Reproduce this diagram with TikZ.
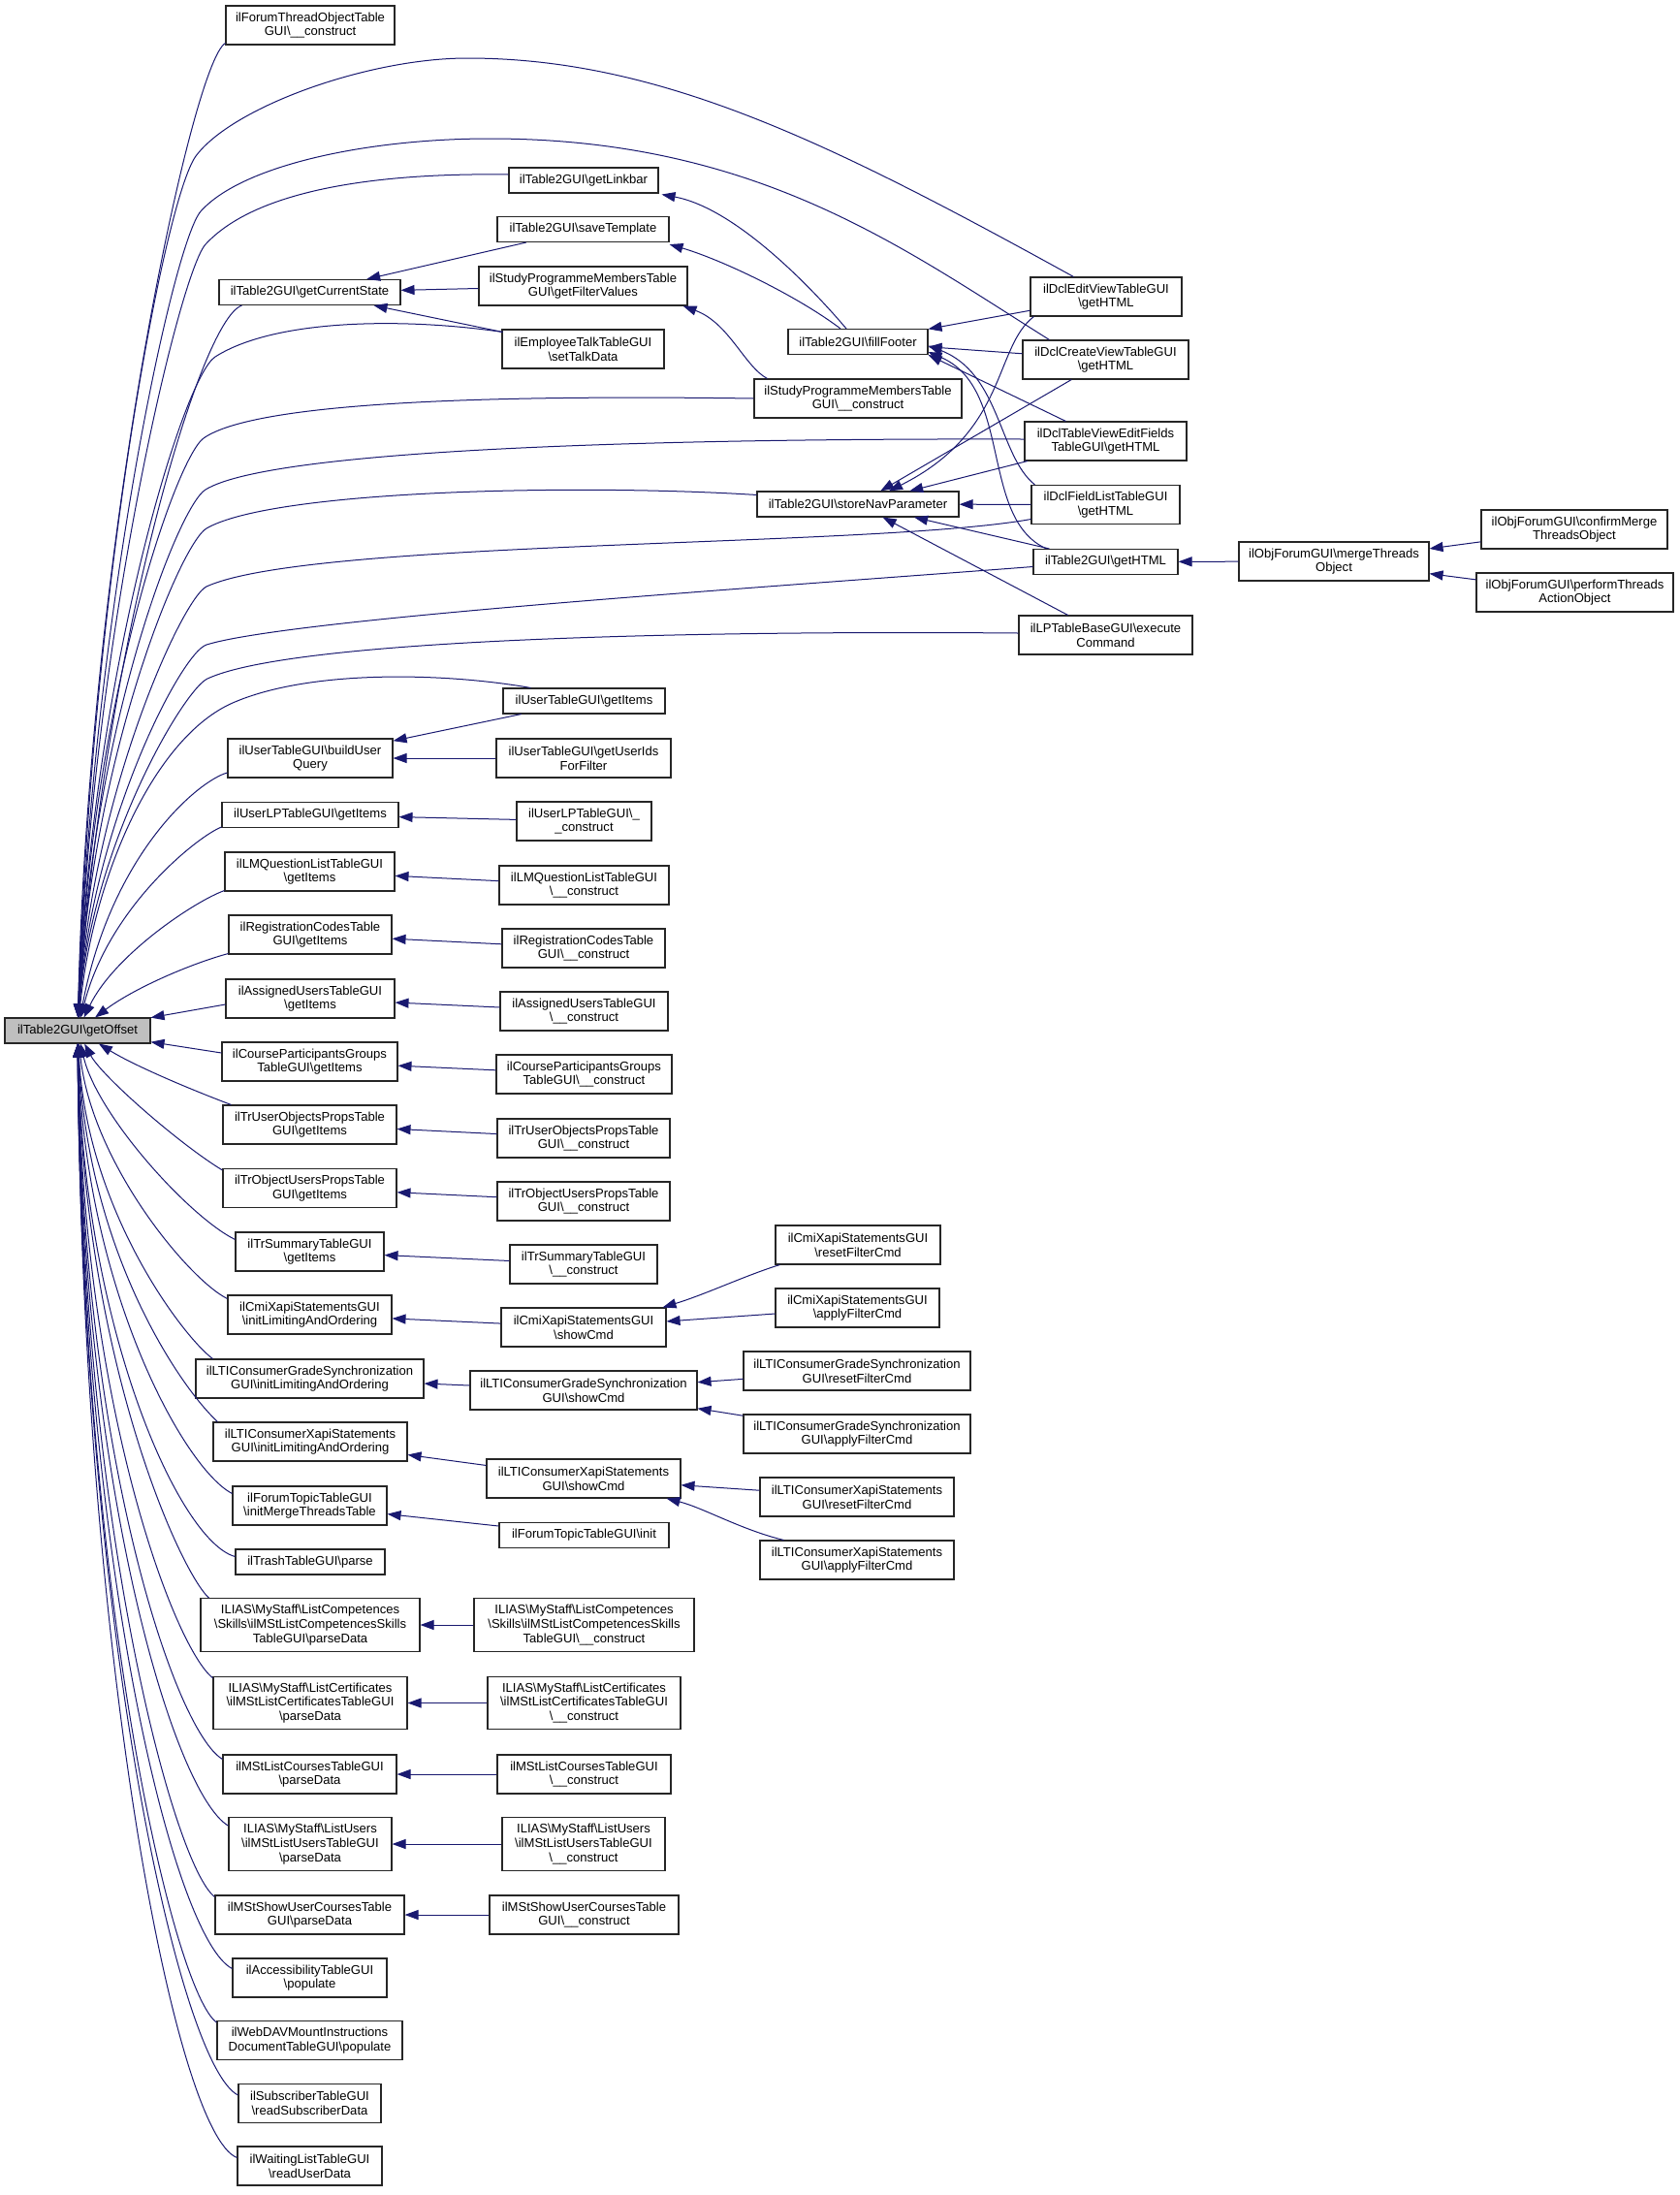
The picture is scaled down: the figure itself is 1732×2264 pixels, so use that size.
\documentclass[tikz,border=0pt]{standalone}
\usepackage{fontspec}
\setmainfont{Liberation Sans}
\usetikzlibrary{arrows.meta,calc}
\definecolor{edgeblue}{HTML}{191970}
\definecolor{rootgrey}{HTML}{BFBFBF}
\newcommand\bsl{\textbackslash}
\begin{document}
\begin{tikzpicture}[x=0.75pt,y=-0.75pt,
  box/.style={draw=black!85,line width=0.8pt,fill=white,inner sep=0pt,align=center,
              font=\fontsize{9.8pt}{11pt}\selectfont},
  bw/.style={minimum width=#1*0.75pt},
  b1/.style={minimum height=19.5pt},
  b2/.style={minimum height=30pt},
  b3/.style={minimum height=41pt},
  edge/.style={draw=edgeblue,line width=0.75pt,-{Triangle[length=10.5pt,width=7.5pt]}}]
\useasboundingbox (0,0) rectangle (1732,2264);
\fill[white] (0,0) rectangle (1732,2264);
% ---------- nodes ----------
\node[box,bw=150,b1,fill=rootgrey] (R) at (80,1063) {ilTable2GUI\bsl getOffset};
\node[box,bw=174,b2] (A1) at (320,26) {ilForumThreadObjectTable\\GUI\bsl\_\_construct};
\node[box,bw=154,b1] (A2) at (602,186) {ilTable2GUI\bsl getLinkbar};
\node[box,bw=177,b1] (A3) at (601.5,236.5) {ilTable2GUI\bsl saveTemplate};
\node[box,bw=187,b1] (A4) at (319.5,301.5) {ilTable2GUI\bsl getCurrentState};
\node[box,bw=215,b2] (A5) at (601.5,295) {ilStudyProgrammeMembersTable\\GUI\bsl getFilterValues};
\node[box,bw=167,b2] (A6) at (601.5,360) {ilEmployeeTalkTableGUI\\\bsl setTalkData};
\node[box,bw=214,b2] (A7) at (885,411) {ilStudyProgrammeMembersTable\\GUI\bsl\_\_construct};
\node[box,bw=144,b1] (A8) at (885,352.5) {ilTable2GUI\bsl fillFooter};
\node[box,bw=208,b1] (A9) at (885,520) {ilTable2GUI\bsl storeNavParameter};
\node[box,bw=156,b2] (B1) at (1141,306) {ilDclEditViewTableGUI\\\bsl getHTML};
\node[box,bw=171,b2] (B2) at (1140.5,371) {ilDclCreateViewTableGUI\\\bsl getHTML};
\node[box,bw=167,b2] (B3) at (1140.5,455) {ilDclTableViewEditFields\\TableGUI\bsl getHTML};
\node[box,bw=153,b2] (B4) at (1140.5,520.5) {ilDclFieldListTableGUI\\\bsl getHTML};
\node[box,bw=149,b1] (B5) at (1140.5,579.5) {ilTable2GUI\bsl getHTML};
\node[box,bw=179,b2] (B6) at (1140.5,655) {ilLPTableBaseGUI\bsl execute\\Command};
\node[box,bw=196,b2] (C1) at (1376,579) {ilObjForumGUI\bsl mergeThreads\\Object};
\node[box,bw=192,b2] (D1) at (1624,546) {ilObjForumGUI\bsl confirmMerge\\ThreadsObject};
\node[box,bw=203,b2] (D2) at (1624.5,611) {ilObjForumGUI\bsl performThreads\\ActionObject};
\node[box,bw=167,b1] (M1) at (602.5,723) {ilUserTableGUI\bsl getItems};
\node[box,bw=170,b2] (M2) at (320,782) {ilUserTableGUI\bsl buildUser\\Query};
\node[box,bw=180,b2] (M3) at (602,782) {ilUserTableGUI\bsl getUserIds\\ForFilter};
\node[box,bw=182,b1] (M4) at (320,840.5) {ilUserLPTableGUI\bsl getItems};
\node[box,bw=139,b2] (M5) at (602.5,847) {ilUserLPTableGUI\bsl\_\\\_construct};
\node[box,bw=175,b2] (M6) at (319.5,899) {ilLMQuestionListTableGUI\\\bsl getItems};
\node[box,bw=175,b2] (M7) at (602.5,913) {ilLMQuestionListTableGUI\\\bsl\_\_construct};
\node[box,bw=168,b2] (M8) at (320,964) {ilRegistrationCodesTable\\GUI\bsl getItems};
\node[box,bw=168,b2] (M9) at (602,978) {ilRegistrationCodesTable\\GUI\bsl\_\_construct};
\node[box,bw=174,b2] (M10) at (320,1030) {ilAssignedUsersTableGUI\\\bsl getItems};
\node[box,bw=173,b2] (M11) at (602.5,1043) {ilAssignedUsersTableGUI\\\bsl\_\_construct};
\node[box,bw=181,b2] (M12) at (319.5,1095) {ilCourseParticipantsGroups\\TableGUI\bsl getItems};
\node[box,bw=181,b2] (M13) at (602.5,1108) {ilCourseParticipantsGroups\\TableGUI\bsl\_\_construct};
\node[box,bw=179,b2] (M14) at (319.5,1160) {ilTrUserObjectsPropsTable\\GUI\bsl getItems};
\node[box,bw=178,b2] (M15) at (602,1174) {ilTrUserObjectsPropsTable\\GUI\bsl\_\_construct};
\node[box,bw=179,b2] (M16) at (319.5,1225.5) {ilTrObjectUsersPropsTable\\GUI\bsl getItems};
\node[box,bw=178,b2] (M17) at (602,1239) {ilTrObjectUsersPropsTable\\GUI\bsl\_\_construct};
\node[box,bw=153,b2] (M18) at (319.5,1291) {ilTrSummaryTableGUI\\\bsl getItems};
\node[box,bw=152,b2] (M19) at (602,1304) {ilTrSummaryTableGUI\\\bsl\_\_construct};
\node[box,bw=169,b2] (M20) at (319.5,1356) {ilCmiXapiStatementsGUI\\\bsl initLimitingAndOrdering};
\node[box,bw=170,b2] (M21) at (602,1369) {ilCmiXapiStatementsGUI\\\bsl showCmd};
\node[box,bw=170,b2] (M22) at (885,1284) {ilCmiXapiStatementsGUI\\\bsl resetFilterCmd};
\node[box,bw=169,b2] (M23) at (884.5,1349) {ilCmiXapiStatementsGUI\\\bsl applyFilterCmd};
\node[box,bw=235,b2] (M24) at (319.5,1422) {ilLTIConsumerGradeSynchronization\\GUI\bsl initLimitingAndOrdering};
\node[box,bw=234,b2] (M25) at (602,1434) {ilLTIConsumerGradeSynchronization\\GUI\bsl showCmd};
\node[box,bw=234,b2] (M26) at (884,1414) {ilLTIConsumerGradeSynchronization\\GUI\bsl resetFilterCmd};
\node[box,bw=234,b2] (M27) at (884,1479) {ilLTIConsumerGradeSynchronization\\GUI\bsl applyFilterCmd};
\node[box,bw=200,b2] (M28) at (320,1487) {ilLTIConsumerXapiStatements\\GUI\bsl initLimitingAndOrdering};
\node[box,bw=200,b2] (M29) at (602,1525) {ilLTIConsumerXapiStatements\\GUI\bsl showCmd};
\node[box,bw=200,b2] (M30) at (884,1544) {ilLTIConsumerXapiStatements\\GUI\bsl resetFilterCmd};
\node[box,bw=200,b2] (M31) at (884,1609) {ilLTIConsumerXapiStatements\\GUI\bsl applyFilterCmd};
\node[box,bw=159,b2] (M32) at (319.5,1553) {ilForumTopicTableGUI\\\bsl initMergeThreadsTable};
\node[box,bw=175,b1] (M33) at (602.5,1583.5) {ilForumTopicTableGUI\bsl init};
\node[box,bw=154,b1] (M34) at (320,1611) {ilTrashTableGUI\bsl parse};
\node[box,bw=226,b3] (M35) at (320,1676) {ILIAS\bsl MyStaff\bsl ListCompetences\\\bsl Skills\bsl ilMStListCompetencesSkills\\TableGUI\bsl parseData};
\node[box,bw=227,b3] (M36) at (602.5,1676) {ILIAS\bsl MyStaff\bsl ListCompetences\\\bsl Skills\bsl ilMStListCompetencesSkills\\TableGUI\bsl\_\_construct};
\node[box,bw=200,b3] (M37) at (320,1756.5) {ILIAS\bsl MyStaff\bsl ListCertificates\\\bsl ilMStListCertificatesTableGUI\\\bsl parseData};
\node[box,bw=199,b3] (M38) at (602.5,1756.5) {ILIAS\bsl MyStaff\bsl ListCertificates\\\bsl ilMStListCertificatesTableGUI\\\bsl\_\_construct};
\node[box,bw=179,b2] (M39) at (319.5,1830) {ilMStListCoursesTableGUI\\\bsl parseData};
\node[box,bw=179,b2] (M40) at (602.5,1830) {ilMStListCoursesTableGUI\\\bsl\_\_construct};
\node[box,bw=168,b3] (M41) at (320,1902) {ILIAS\bsl MyStaff\bsl ListUsers\\\bsl ilMStListUsersTableGUI\\\bsl parseData};
\node[box,bw=168,b3] (M42) at (602,1902) {ILIAS\bsl MyStaff\bsl ListUsers\\\bsl ilMStListUsersTableGUI\\\bsl\_\_construct};
\node[box,bw=195,b2] (M43) at (319.5,1975) {ilMStShowUserCoursesTable\\GUI\bsl parseData};
\node[box,bw=195,b2] (M44) at (602.5,1975) {ilMStShowUserCoursesTable\\GUI\bsl\_\_construct};
\node[box,bw=159,b2] (M45) at (319.5,2040) {ilAccessibilityTableGUI\\\bsl populate};
\node[box,bw=191,b2] (M46) at (319.5,2104.5) {ilWebDAVMountInstructions\\DocumentTableGUI\bsl populate};
\node[box,bw=147,b2] (M47) at (319.5,2169.5) {ilSubscriberTableGUI\\\bsl readSubscriberData};
\node[box,bw=149,b2] (M48) at (319.5,2234) {ilWaitingListTableGUI\\\bsl readUserData};
% ---------- edges into getOffset ----------
\draw[edge] ($(A1.south west)+(0,-2)$) .. controls (198,64) and (92,560) .. (R);
\draw[edge] ($(B1.north west)+(45,0)$) .. controls (858,148) and (682,60) .. (482,60) .. controls (380,60) and (240,110) .. (202,161) .. controls (170,205) and (95,600) .. (R);
\draw[edge] ($(B2.north west)+(28,0)$) .. controls (930,255) and (780,143) .. (505,143) .. controls (380,143) and (250,170) .. (207,218) .. controls (178,252) and (95,640) .. (R);
\draw[edge] ($(A2.west)+(0,-6)$) .. controls (380,178) and (262,198) .. (212,252) .. controls (185,282) and (95,660) .. (R);
\draw[edge] ($(A4.south west)+(24,0)$) .. controls (205,330) and (105,680) .. (R);
\draw[edge] ($(A6.north west)+(1,3)$) .. controls (420,328) and (285,328) .. (222,368) .. controls (188,390) and (95,700) .. (R);
\draw[edge] (A7.west) .. controls (500,407) and (262,415) .. (210,452) .. controls (182,472) and (95,720) .. (R);
\draw[edge] ($(B3.west)+(0,-2)$) .. controls (700,452) and (282,462) .. (212,505) .. controls (184,522) and (95,750) .. (R);
\draw[edge] ($(A9.north west)+(0,4)$) .. controls (600,499) and (282,505) .. (213,545) .. controls (186,561) and (95,780) .. (R);
\draw[edge] ($(B4.west)+(0,15)$) .. controls (900,565) and (320,556) .. (213,605) .. controls (188,617) and (95,820) .. (R);
\draw[edge] ($(B5.west)+(0,5)$) .. controls (800,605) and (300,638) .. (213,665) .. controls (187,673) and (95,850) .. (R);
\draw[edge] ($(B6.west)+(0,-2)$) .. controls (700,650) and (300,660) .. (214,700) .. controls (190,711) and (95,870) .. (R);
\draw[edge] ($(M1.north west)+(29,0)$) .. controls (460,694) and (320,690) .. (240,725) .. controls (160,760) and (97,900) .. (R);
\draw[edge] ($(M2.west)+(0,15)$) .. controls (205,805) and (115,880) .. (R);
\draw[edge] ($(M4.south west)+(0,-1)$) .. controls (205,862) and (112,935) .. (R);
\draw[edge] ($(M6.south west)+(0,-1)$) .. controls (200,930) and (118,985) .. (R);
\draw[edge] ($(M8.south west)+(0,-1)$) .. controls (200,993) and (140,1018) .. (R);
\draw[edge] ($(M10.west)+(0,6)$) -- (R);
\draw[edge] ($(M12.west)+(0,-9)$) -- (R);
\draw[edge] ($(M14.north west)+(9,0)$) .. controls (200,1125) and (140,1100) .. (R);
\draw[edge] ($(M16.north west)+(0,2)$) .. controls (185,1180) and (105,1110) .. (R);
\draw[edge] ($(M18.north west)+(0,8)$) .. controls (195,1255) and (100,1150) .. (R);
\draw[edge] ($(M20.north west)+(0,4)$) .. controls (195,1320) and (95,1200) .. (R);
\draw[edge] ($(M24.north west)+(18,0)$) .. controls (190,1380) and (90,1250) .. (R);
\draw[edge] ($(M28.north west)+(5,0)$) .. controls (185,1430) and (90,1290) .. (R);
\draw[edge] ($(M32.north west)+(0,8)$) .. controls (190,1515) and (88,1330) .. (R);
\draw[edge] ($(M34.north west)+(0,8)$) .. controls (185,1590) and (86,1370) .. (R);
\draw[edge] ($(M35.north west)+(9,0)$) .. controls (185,1620) and (86,1400) .. (R);
\draw[edge] ($(M37.north west)+(0,2)$) .. controls (180,1700) and (85,1450) .. (R);
\draw[edge] ($(M39.north west)+(0,5)$) .. controls (180,1785) and (85,1500) .. (R);
\draw[edge] ($(M41.north west)+(0,9)$) .. controls (180,1850) and (85,1540) .. (R);
\draw[edge] ($(M43.north west)+(0,2)$) .. controls (180,1925) and (85,1580) .. (R);
\draw[edge] ($(M45.north west)+(0,11)$) .. controls (180,2000) and (85,1620) .. (R);
\draw[edge] ($(M46.north west)+(0,2)$) .. controls (180,2055) and (85,1660) .. (R);
\draw[edge] ($(M47.north west)+(0,12)$) .. controls (185,2130) and (85,1680) .. (R);
\draw[edge] ($(M48.north west)+(0,12)$) .. controls (180,2200) and (85,1703) .. (R);
% ---------- top group ----------
\draw[edge] (A3) -- (A4);
\draw[edge] (A5) -- (A4);
\draw[edge] ($(A6.north west)+(1,3)$) -- ($(A4.south)+(66,0)$);
\draw[edge] ($(A8.north)+(-12,0)$) .. controls (840,300) and (760,215) .. ($(A2.south east)+(3,1)$);
\draw[edge] ($(A8.north)+(-18,0)$) .. controls (822,305) and (745,268) .. ($(A3.south east)+(0,2)$);
\draw[edge] ($(A7.north west)+(14,0)$) .. controls (768,378) and (752,333) .. ($(A5.south east)+(-5,0)$);
\draw[edge] (B1) -- (A8);
\draw[edge] (B2) -- (A8);
\draw[edge] ($(B3.north west)+(43,0)$) -- (A8.south east);
\draw[edge] ($(B4.north west)+(4,0)$) .. controls (1030,470) and (1032,385) .. ($(A8.east)+(0,4)$);
\draw[edge] ($(B5.north west)+(14,0)$) .. controls (1010,535) and (1045,400) .. ($(A8.south east)+(0,-3)$);
\draw[edge] ($(B1.south west)+(4,0)$) .. controls (1025,358) and (1040,445) .. ($(A9.north)+(32,0)$);
\draw[edge] (B2) -- (A9);
\draw[edge] (B3) -- (A9);
\draw[edge] (B4) -- (A9);
\draw[edge] (B5) -- (A9);
\draw[edge] (B6) -- (A9);
\draw[edge] (C1) -- (B5);
\draw[edge] (D1) -- (C1);
\draw[edge] (D2) -- (C1);
% ---------- middle group ----------
\draw[edge] (M1) -- (M2);
\draw[edge] (M3) -- (M2);
\draw[edge] (M5) -- (M4);
\draw[edge] (M7) -- (M6);
\draw[edge] (M9) -- (M8);
\draw[edge] (M11) -- (M10);
\draw[edge] (M13) -- (M12);
\draw[edge] (M15) -- (M14);
\draw[edge] (M17) -- (M16);
\draw[edge] (M19) -- (M18);
\draw[edge] (M21) -- (M20);
\draw[edge] ($(M22.south west)+(5,0)$) .. controls (770,1315) and (728,1335) .. ($(M21.north east)+(-4,0)$);
\draw[edge] (M23) -- (M21);
\draw[edge] (M25) -- (M24);
\draw[edge] (M26) -- (M25);
\draw[edge] (M27) -- (M25);
\draw[edge] (M29) -- (M28);
\draw[edge] (M30) -- (M29);
\draw[edge] ($(M31.north west)+(25,0)$) .. controls (765,1578) and (725,1555) .. ($(M29.south east)+(-15,0)$);
\draw[edge] (M33) -- (M32);
\draw[edge] (M36) -- (M35);
\draw[edge] (M38) -- (M37);
\draw[edge] (M40) -- (M39);
\draw[edge] (M42) -- (M41);
\draw[edge] (M44) -- (M43);
\end{tikzpicture}
\end{document}
